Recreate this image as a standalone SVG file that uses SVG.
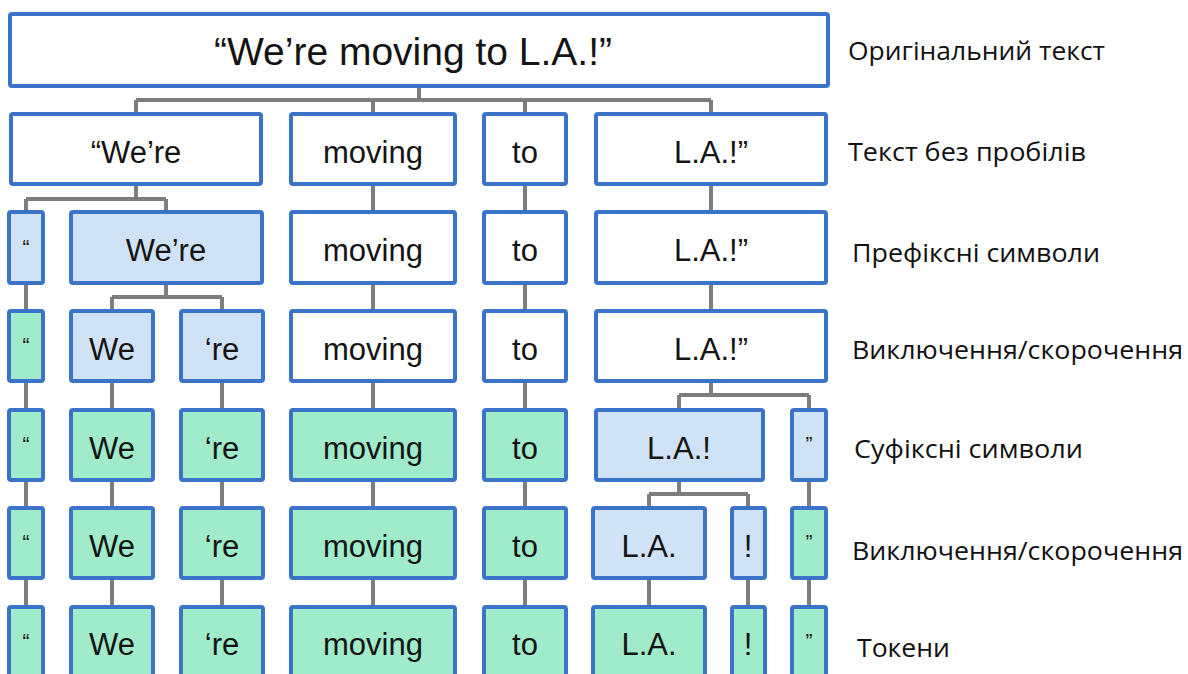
<svg xmlns="http://www.w3.org/2000/svg" width="1188" height="674" viewBox="0 0 1188 674">
  <style>
    .box { stroke: #3b73c8; stroke-width: 4; }
    .w { fill: #ffffff; }
    .b { fill: #cfe2f6; }
    .g { fill: #a0ebca; }
    .t { font-family: "Liberation Sans", Arial, sans-serif; font-size: 31px; fill: #141414; text-anchor: middle; }
    .big { font-size: 39px; }
    .q { font-size: 21px; }
    .lbl { font-family: "Open Sans", "Noto Sans", sans-serif; font-size: 26px; fill: #111111; }
    .links path { fill: none; stroke: #7d7d7d; stroke-width: 4; }
  </style>
  <rect width="1188" height="674" fill="#ffffff"/>

  <!-- connectors -->
  <g class="links" id="connectors">
    <path d="M419 86 V100 M136 100 H711 M136 100 V114 M373 100 V114 M525 100 V114 M711 100 V114"/>
    <path d="M136 184 V199 M26 199 H166 M26 199 V212 M166 199 V212"/>
    <path d="M373 184 V212 M525 184 V212 M711 184 V212"/>
    <path d="M166 283 V297 M112 297 H222 M112 297 V311 M222 297 V311"/>
    <path d="M26 283 V311 M373 283 V311 M525 283 V311 M711 283 V311"/>
    <path d="M711 381 V395 M679 395 H809 M679 395 V410 M809 395 V410"/>
    <path d="M26 381 V410 M112 381 V410 M222 381 V410 M373 381 V410 M525 381 V410"/>
    <path d="M679 480 V494 M649 494 H748 M649 494 V508 M748 494 V508"/>
    <path d="M26 480 V508 M112 480 V508 M222 480 V508 M373 480 V508 M525 480 V508 M809 480 V508"/>
    <path d="M26 578 V607 M112 578 V607 M222 578 V607 M373 578 V607 M525 578 V607 M649 578 V607 M748 578 V607 M809 578 V607"/>
  </g>

  <!-- row 1: original text -->
  <g id="n-original"><rect class="box w" x="10" y="14" width="818" height="72" rx="2"/><text class="t big" x="413" y="65">“We’re moving to L.A.!”</text></g>

  <!-- row 2: split on whitespace -->
  <g id="n2-were"><rect class="box w" x="11" y="114" width="250" height="70" rx="2"/><text class="t" x="136" y="163">“We’re</text></g>
  <g id="n2-moving"><rect class="box w" x="291" y="114" width="164" height="70" rx="2"/><text class="t" x="373" y="163">moving</text></g>
  <g id="n2-to"><rect class="box w" x="484" y="114" width="82" height="70" rx="2"/><text class="t" x="525" y="163">to</text></g>
  <g id="n2-la"><rect class="box w" x="596" y="114" width="230" height="70" rx="2"/><text class="t" x="711" y="163">L.A.!”</text></g>

  <!-- row 3: prefix symbols -->
  <g id="n3-quote"><rect class="box b" x="9" y="212" width="34" height="71" rx="2"/><text class="t q" x="26" y="254">“</text></g>
  <g id="n3-were"><rect class="box b" x="71" y="212" width="191" height="71" rx="2"/><text class="t" x="166" y="261">We’re</text></g>
  <g id="n3-moving"><rect class="box w" x="291" y="212" width="164" height="71" rx="2"/><text class="t" x="373" y="261">moving</text></g>
  <g id="n3-to"><rect class="box w" x="484" y="212" width="82" height="71" rx="2"/><text class="t" x="525" y="261">to</text></g>
  <g id="n3-la"><rect class="box w" x="596" y="212" width="230" height="71" rx="2"/><text class="t" x="711" y="261">L.A.!”</text></g>

  <!-- row 4: exceptions / contractions -->
  <g id="n4-quote"><rect class="box g" x="9" y="311" width="34" height="70" rx="2"/><text class="t q" x="26" y="352">“</text></g>
  <g id="n4-we"><rect class="box b" x="71" y="311" width="82" height="70" rx="2"/><text class="t" x="112" y="360">We</text></g>
  <g id="n4-re"><rect class="box b" x="181" y="311" width="82" height="70" rx="2"/><text class="t" x="222" y="360">‘re</text></g>
  <g id="n4-moving"><rect class="box w" x="291" y="311" width="164" height="70" rx="2"/><text class="t" x="373" y="360">moving</text></g>
  <g id="n4-to"><rect class="box w" x="484" y="311" width="82" height="70" rx="2"/><text class="t" x="525" y="360">to</text></g>
  <g id="n4-la"><rect class="box w" x="596" y="311" width="230" height="70" rx="2"/><text class="t" x="711" y="360">L.A.!”</text></g>

  <!-- row 5: suffix symbols -->
  <g id="n5-quote"><rect class="box g" x="9" y="410" width="34" height="70" rx="2"/><text class="t q" x="26" y="451">“</text></g>
  <g id="n5-we"><rect class="box g" x="71" y="410" width="82" height="70" rx="2"/><text class="t" x="112" y="459">We</text></g>
  <g id="n5-re"><rect class="box g" x="181" y="410" width="82" height="70" rx="2"/><text class="t" x="222" y="459">‘re</text></g>
  <g id="n5-moving"><rect class="box g" x="291" y="410" width="164" height="70" rx="2"/><text class="t" x="373" y="459">moving</text></g>
  <g id="n5-to"><rect class="box g" x="484" y="410" width="82" height="70" rx="2"/><text class="t" x="525" y="459">to</text></g>
  <g id="n5-la"><rect class="box b" x="596" y="410" width="167" height="70" rx="2"/><text class="t" x="679" y="459">L.A.!</text></g>
  <g id="n5-endquote"><rect class="box b" x="792" y="410" width="34" height="70" rx="2"/><text class="t q" x="809" y="451">”</text></g>

  <!-- row 6: exceptions / contractions -->
  <g id="n6-quote"><rect class="box g" x="9" y="508" width="34" height="70" rx="2"/><text class="t q" x="26" y="549">“</text></g>
  <g id="n6-we"><rect class="box g" x="71" y="508" width="82" height="70" rx="2"/><text class="t" x="112" y="557">We</text></g>
  <g id="n6-re"><rect class="box g" x="181" y="508" width="82" height="70" rx="2"/><text class="t" x="222" y="557">‘re</text></g>
  <g id="n6-moving"><rect class="box g" x="291" y="508" width="164" height="70" rx="2"/><text class="t" x="373" y="557">moving</text></g>
  <g id="n6-to"><rect class="box g" x="484" y="508" width="82" height="70" rx="2"/><text class="t" x="525" y="557">to</text></g>
  <g id="n6-la"><rect class="box b" x="593" y="508" width="112" height="70" rx="2"/><text class="t" x="649" y="557">L.A.</text></g>
  <g id="n6-bang"><rect class="box b" x="732" y="508" width="33" height="70" rx="2"/><text class="t" x="748" y="557">!</text></g>
  <g id="n6-endquote"><rect class="box g" x="792" y="508" width="34" height="70" rx="2"/><text class="t q" x="809" y="549">”</text></g>

  <!-- row 7: tokens -->
  <g id="n7-quote"><rect class="box g" x="9" y="607" width="34" height="72" rx="2"/><text class="t q" x="26" y="648">“</text></g>
  <g id="n7-we"><rect class="box g" x="71" y="607" width="82" height="72" rx="2"/><text class="t" x="112" y="655">We</text></g>
  <g id="n7-re"><rect class="box g" x="181" y="607" width="82" height="72" rx="2"/><text class="t" x="222" y="655">‘re</text></g>
  <g id="n7-moving"><rect class="box g" x="291" y="607" width="164" height="72" rx="2"/><text class="t" x="373" y="655">moving</text></g>
  <g id="n7-to"><rect class="box g" x="484" y="607" width="82" height="72" rx="2"/><text class="t" x="525" y="655">to</text></g>
  <g id="n7-la"><rect class="box g" x="593" y="607" width="112" height="72" rx="2"/><text class="t" x="649" y="655">L.A.</text></g>
  <g id="n7-bang"><rect class="box g" x="732" y="607" width="33" height="72" rx="2"/><text class="t" x="748" y="655">!</text></g>
  <g id="n7-endquote"><rect class="box g" x="792" y="607" width="34" height="72" rx="2"/><text class="t q" x="809" y="648">”</text></g>

  <!-- stage labels -->
  <g id="labels">
    <text class="lbl" x="848" y="60" textLength="257" lengthAdjust="spacingAndGlyphs">Оригінальний текст</text>
    <text class="lbl" x="848" y="161" textLength="238" lengthAdjust="spacingAndGlyphs">Текст без пробілів</text>
    <text class="lbl" x="852" y="262" textLength="248" lengthAdjust="spacingAndGlyphs">Префіксні символи</text>
    <text class="lbl" x="852" y="359" textLength="331" lengthAdjust="spacingAndGlyphs">Виключення/скорочення</text>
    <text class="lbl" x="854" y="458" textLength="229" lengthAdjust="spacingAndGlyphs">Суфіксні символи</text>
    <text class="lbl" x="852" y="560" textLength="331" lengthAdjust="spacingAndGlyphs">Виключення/скорочення</text>
    <text class="lbl" x="857" y="657" textLength="93" lengthAdjust="spacingAndGlyphs">Токени</text>
  </g>
</svg>
